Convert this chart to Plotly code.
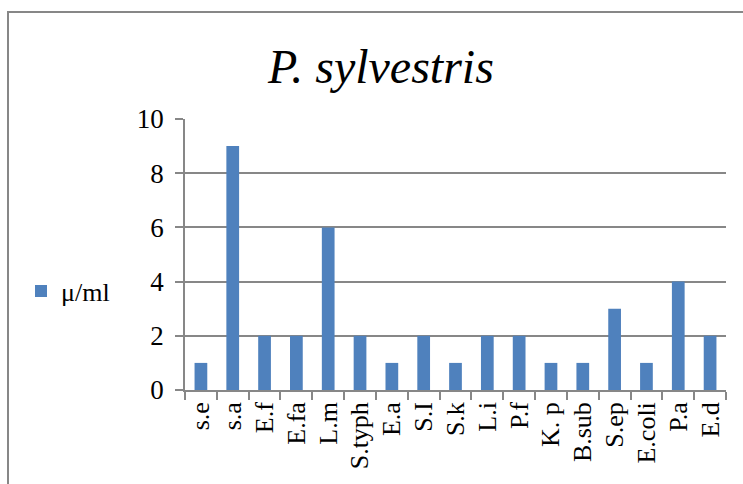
import plotly.graph_objects as go

categories = ["s.e", "s.a", "E.f", "E.fa", "L.m", "S.typh", "E.a", "S.I", "S.k",
              "L.i", "P.f", "K. p", "B.sub", "S.ep", "E.coli", "P.a", "E.d"]
values = [1, 9, 2, 2, 6, 2, 1, 2, 1, 2, 2, 1, 1, 3, 1, 4, 2]
series_name = "μ/ml"
title_text = "<i>P. sylvestris</i>"

FONT = "Liberation Serif, Times New Roman, serif"
GRAY = "#878787"
BLUE = "#4f81bd"

fig = go.Figure()
fig.add_trace(go.Bar(x=categories, y=values, name=series_name,
                     marker=dict(color=BLUE, line=dict(width=0))))

L, R, T, B = 185, 17, 119, 94
W, H = 743, 484
pw, ph = W - L - R, H - T - B

def px_x(p):
    return (p - L) / pw

def px_y(p):
    return (H - B - p) / ph

fig.update_layout(
    width=W, height=H,
    margin=dict(l=L, r=R, t=T, b=B, autoexpand=False),
    paper_bgcolor="white", plot_bgcolor="white",
    font=dict(family=FONT, color="black", size=25),
    title=dict(text=title_text, x=381 / W, xanchor="center",
               y=1 - 66 / H, yanchor="middle",
               font=dict(family=FONT, size=48, color="black")),
    bargap=0.6,
    showlegend=True,
    legend=dict(x=px_x(21), y=px_y(291), xanchor="left", yanchor="middle",
                font=dict(family=FONT, size=26, color="black"),
                itemwidth=30, bgcolor="rgba(0,0,0,0)"),
    xaxis=dict(type="category", tickangle=-90, tickson="boundaries",
               ticks="outside", ticklen=8, tickcolor=GRAY, tickwidth=1.5,
               showline=True, linecolor=GRAY, linewidth=1.5,
               showgrid=False, tickfont=dict(family=FONT, size=26, color="black")),
    yaxis=dict(range=[0, 10], dtick=2, tick0=0, ticks="outside", ticklen=8,
               tickcolor=GRAY, tickwidth=1.5,
               showline=True, linecolor=GRAY, linewidth=1.5,
               showgrid=True, gridcolor=GRAY, gridwidth=1.5,
               zeroline=False, ticklabelstandoff=6,
               tickfont=dict(family=FONT, size=27, color="black")),
    shapes=[
        dict(type="line", xref="paper", yref="paper",
             x0=px_x(7), x1=px_x(760), y0=px_y(12), y1=px_y(12),
             line=dict(color=GRAY, width=2)),
        dict(type="line", xref="paper", yref="paper",
             x0=px_x(8), x1=px_x(8), y0=px_y(12), y1=px_y(500),
             line=dict(color=GRAY, width=2)),
    ],
)

fig.write_html("out.html", config={"displayModeBar": False},
               post_script="document.body.style.margin='0';document.body.style.overflow='hidden';")
